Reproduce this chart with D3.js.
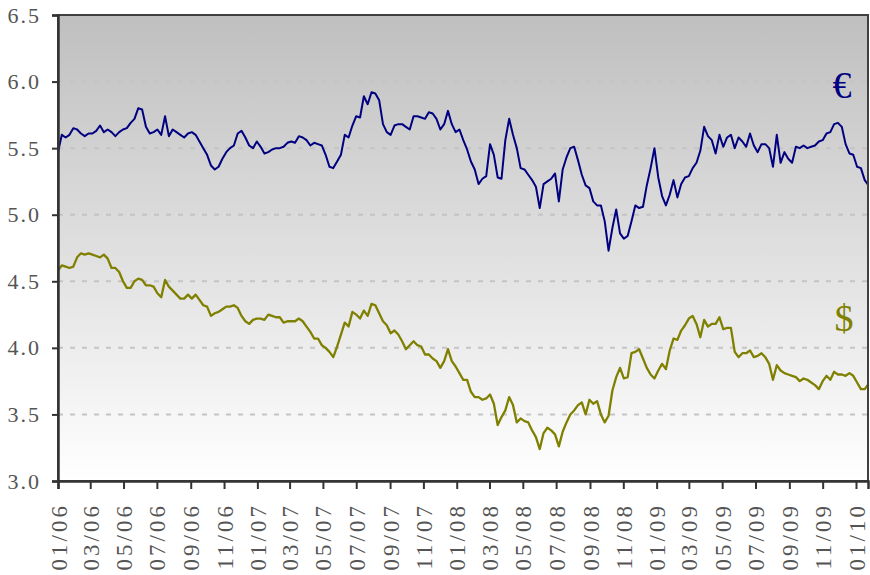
<!DOCTYPE html>
<html>
<head>
<meta charset="utf-8">
<script src="https://cdn.jsdelivr.net/npm/d3@7"></script>
<style>
  body { margin: 0; background: #fff; }
</style>
</head>
<body>
<div id="chart"></div>
<script>
// weekly readings, first week starting 01/01/2006
let startDate = new Date(2006, 0, 1)
let endDate = new Date(2010, 0, 23)

let euro = [
  5.47, 5.60, 5.58, 5.60, 5.65, 5.64, 5.61, 5.59, 5.61, 5.61,
  5.63, 5.67, 5.62, 5.64, 5.62, 5.59, 5.62, 5.64, 5.65, 5.69,
  5.72, 5.80, 5.79, 5.66, 5.61, 5.62, 5.64, 5.60, 5.74, 5.59,
  5.64, 5.62, 5.60, 5.58, 5.61, 5.62, 5.60, 5.55, 5.50, 5.45,
  5.37, 5.34, 5.36, 5.42, 5.47, 5.50, 5.52, 5.61, 5.63, 5.58,
  5.52, 5.50, 5.55, 5.51, 5.46, 5.47, 5.49, 5.50, 5.50, 5.51,
  5.54, 5.55, 5.54, 5.59, 5.58, 5.56, 5.52, 5.54, 5.53, 5.52,
  5.45, 5.36, 5.35, 5.40, 5.45, 5.60, 5.58, 5.67, 5.74, 5.73,
  5.89, 5.83, 5.92, 5.91, 5.86, 5.68, 5.62, 5.60, 5.67, 5.68,
  5.68, 5.66, 5.64, 5.74, 5.74, 5.73, 5.72, 5.77, 5.76, 5.72,
  5.64, 5.68, 5.78, 5.68, 5.62, 5.64, 5.56, 5.49, 5.40, 5.34,
  5.23, 5.27, 5.29, 5.53, 5.45, 5.28, 5.27, 5.56, 5.72, 5.60,
  5.50, 5.35, 5.34, 5.30, 5.26, 5.21, 5.05, 5.23, 5.25, 5.27,
  5.31, 5.10, 5.34, 5.43, 5.50, 5.51, 5.41, 5.30, 5.22, 5.20,
  5.10, 5.07, 5.07, 4.95, 4.73, 4.90, 5.04, 4.86, 4.82, 4.84,
  4.95, 5.07, 5.05, 5.06, 5.22, 5.35, 5.50, 5.28, 5.14, 5.07,
  5.15, 5.26, 5.13, 5.23, 5.28, 5.29, 5.35, 5.39, 5.48, 5.66,
  5.59, 5.56, 5.46, 5.60, 5.51, 5.58, 5.60, 5.50, 5.58, 5.55,
  5.51, 5.61, 5.52, 5.47, 5.53, 5.53, 5.50, 5.36, 5.60, 5.39,
  5.47, 5.42, 5.39, 5.51, 5.50, 5.52, 5.50, 5.51, 5.52, 5.55,
  5.56, 5.61, 5.62, 5.68, 5.69, 5.66, 5.53, 5.46, 5.45, 5.36,
  5.35, 5.26, 5.22
]

let dollar = [
  4.58, 4.62, 4.61, 4.60, 4.61, 4.68, 4.71, 4.70, 4.71, 4.70,
  4.69, 4.68, 4.70, 4.67, 4.60, 4.60, 4.57, 4.50, 4.45, 4.45,
  4.50, 4.52, 4.51, 4.47, 4.47, 4.46, 4.41, 4.38, 4.51, 4.46,
  4.43, 4.40, 4.37, 4.37, 4.40, 4.37, 4.40, 4.36, 4.32, 4.31,
  4.24, 4.26, 4.27, 4.29, 4.31, 4.31, 4.32, 4.30, 4.24, 4.20,
  4.18, 4.21, 4.22, 4.22, 4.21, 4.25, 4.24, 4.23, 4.23, 4.19,
  4.20, 4.20, 4.20, 4.22, 4.20, 4.16, 4.12, 4.07, 4.07, 4.02,
  4.00, 3.97, 3.93, 4.01, 4.10, 4.19, 4.16, 4.27, 4.25, 4.22,
  4.28, 4.24, 4.33, 4.32, 4.26, 4.20, 4.17, 4.11, 4.13, 4.10,
  4.05, 3.99, 4.02, 4.05, 4.02, 4.01, 3.95, 3.95, 3.92, 3.90,
  3.85, 3.90, 3.99, 3.90, 3.86, 3.81, 3.76, 3.76, 3.67, 3.63,
  3.63, 3.61, 3.62, 3.65, 3.58, 3.42, 3.48, 3.53, 3.63, 3.57,
  3.44, 3.47, 3.45, 3.44, 3.38, 3.33, 3.24, 3.36, 3.40, 3.38,
  3.35, 3.26, 3.37, 3.44, 3.50, 3.53, 3.57, 3.59, 3.50, 3.61,
  3.58, 3.60, 3.50, 3.44, 3.49, 3.68, 3.78, 3.85, 3.77, 3.78,
  3.96, 3.97, 3.99, 3.92, 3.85, 3.80, 3.77, 3.83, 3.88, 3.84,
  3.98, 4.07, 4.06, 4.13, 4.17, 4.22, 4.24, 4.18, 4.08, 4.21,
  4.16, 4.18, 4.18, 4.23, 4.14, 4.15, 4.15, 3.97, 3.93, 3.96,
  3.96, 3.98, 3.93, 3.94, 3.96, 3.93, 3.88, 3.76, 3.87, 3.83,
  3.81, 3.80, 3.79, 3.78, 3.75, 3.77, 3.76, 3.74, 3.72, 3.69,
  3.75, 3.79, 3.76, 3.82, 3.80, 3.80, 3.79, 3.81, 3.79, 3.74,
  3.69, 3.69, 3.73
]

let yTicks = [3.0, 3.5, 4.0, 4.5, 5.0, 5.5, 6.0, 6.5]

let serif = "'Liberation Serif', 'Times New Roman', Times, serif"

let margin = { top: 15, bottom: 94, left: 58, right: 2 }
let width = 870 - margin.left - margin.right
let height = 575 - margin.top - margin.bottom

let svg = d3
  .select('#chart')
  .append('svg')
  .attr('width', width + margin.left + margin.right)
  .attr('height', height + margin.top + margin.bottom)

let g = svg.append('g').attr('transform', `translate(${margin.left},${margin.top})`)

let xPositionScale = d3.scaleTime().domain([startDate, endDate]).range([0, width])
let yPositionScale = d3.scaleLinear().domain([3, 6.5]).range([height, 0])

let defs = svg.append('defs')
let grad = defs
  .append('linearGradient')
  .attr('id', 'bg')
  .attr('x1', 0).attr('y1', 0).attr('x2', 0).attr('y2', 1)
grad.append('stop').attr('offset', '0%').attr('stop-color', '#bfbfbf')
grad.append('stop').attr('offset', '100%').attr('stop-color', '#ffffff')

defs.append('clipPath').attr('id', 'clip')
  .append('rect').attr('width', width).attr('height', height)

g.append('rect')
  .attr('width', width)
  .attr('height', height)
  .attr('fill', 'url(#bg)')

// dashed grid
g.selectAll('.grid')
  .data(yTicks.slice(1, -1))
  .enter()
  .append('line')
  .attr('class', 'grid')
  .attr('x1', 0)
  .attr('x2', width)
  .attr('y1', d => yPositionScale(d))
  .attr('y2', d => yPositionScale(d))
  .attr('stroke', '#c4c4c4')
  .attr('stroke-width', 2)
  .attr('stroke-dasharray', '5,7')

let toPoints = values => values.map((v, i) => ({ date: d3.timeDay.offset(startDate, i * 7), value: v }))

let line = d3
  .line()
  .x(d => xPositionScale(d.date))
  .y(d => yPositionScale(d.value))

let lines = g.append('g').attr('clip-path', 'url(#clip)')

lines.append('path')
  .datum(toPoints(dollar))
  .attr('d', line)
  .attr('fill', 'none')
  .attr('stroke', '#808000')
  .attr('stroke-width', 2.3)
  .attr('stroke-linejoin', 'round')

lines.append('path')
  .datum(toPoints(euro))
  .attr('d', line)
  .attr('fill', 'none')
  .attr('stroke', '#000080')
  .attr('stroke-width', 2)
  .attr('stroke-linejoin', 'round')

// frame
g.append('rect')
  .attr('width', width)
  .attr('height', height)
  .attr('fill', 'none')
  .attr('stroke', '#404040')
  .attr('stroke-width', 2)

let yAxis = d3.axisLeft(yPositionScale)
  .tickValues(yTicks)
  .tickSize(6)
  .tickFormat(d3.format('.1f'))

let yg = g.append('g').call(yAxis)
yg.attr('font-family', serif)
yg.select('.domain').attr('stroke', '#333').attr('stroke-width', 2.5)
yg.selectAll('.tick line').attr('stroke', '#333').attr('stroke-width', 2)
yg.selectAll('.tick text')
  .attr('x', -17)
  .attr('fill', '#555')
  .style('font-family', serif)
  .style('font-size', '22px')
  .style('letter-spacing', '2px')

let xAxis = d3.axisBottom(xPositionScale)
  .ticks(d3.timeMonth.every(2))
  .tickSize(8)
  .tickFormat(d3.timeFormat('%m/%y'))

let xg = g.append('g').attr('transform', `translate(0,${height})`).call(xAxis)
xg.attr('font-family', serif)
xg.select('.domain').attr('stroke', '#333').attr('stroke-width', 2.5)
xg.selectAll('.tick line').attr('stroke', '#333').attr('stroke-width', 2)
xg.selectAll('.tick text')
  .attr('transform', 'rotate(-90)')
  .attr('text-anchor', 'end')
  .attr('x', -22)
  .attr('y', 0)
  .attr('dy', '0.35em')
  .attr('fill', '#555')
  .style('font-family', serif)
  .style('font-size', '23px')
  .style('letter-spacing', '3px')

g.append('text')
  .text('€')
  .attr('x', width - 26)
  .attr('y', yPositionScale(5.88))
  .attr('text-anchor', 'middle')
  .attr('fill', '#000080')
  .style('font-family', serif)
  .style('font-size', '38px')

g.append('text')
  .text('$')
  .attr('x', width - 24)
  .attr('y', yPositionScale(4.13))
  .attr('text-anchor', 'middle')
  .attr('fill', '#808000')
  .style('font-family', serif)
  .style('font-size', '38px')
</script>
</body>
</html>
